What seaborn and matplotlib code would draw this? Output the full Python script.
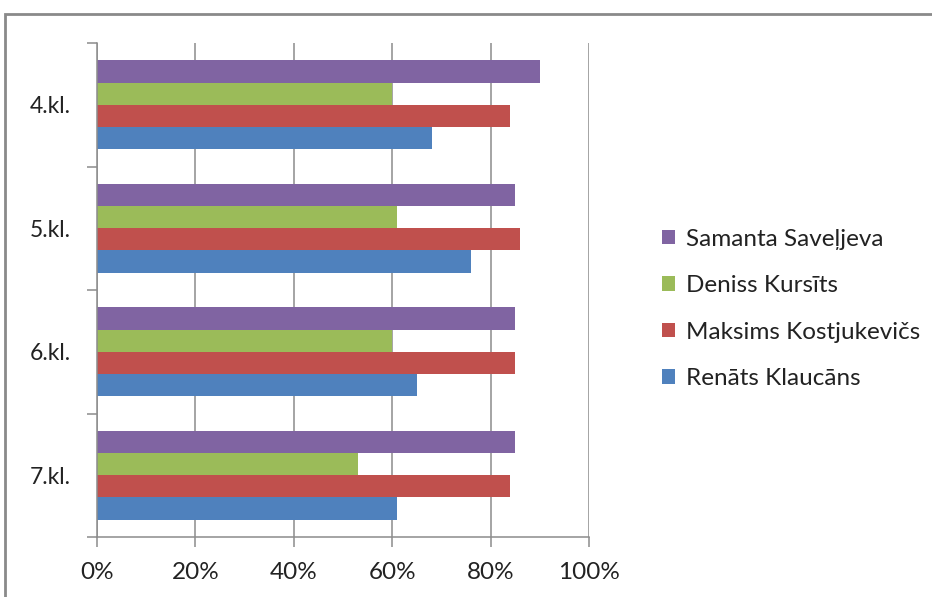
import matplotlib
matplotlib.use("Agg")
import matplotlib.pyplot as plt
import seaborn as sns
import pandas as pd
from matplotlib.patches import Rectangle, Patch
from matplotlib.ticker import FixedLocator

classes = ["4.kl.", "5.kl.", "6.kl.", "7.kl."]
students = ["Samanta Saveļjeva", "Deniss Kursīts", "Maksims Kostjukevičs", "Renāts Klaucāns"]
samanta = [90, 85, 85, 85]
deniss = [60, 61, 60, 53]
maksims = [84, 86, 85, 84]
renats = [68, 76, 65, 61]
colors = ["#8064A2", "#9BBB59", "#C0504D", "#4F81BD"]

rows = []
for name, vals in zip(students, [samanta, deniss, maksims, renats]):
    for cls, v in zip(classes, vals):
        rows.append({"klase": cls, "skolēns": name, "proc": v})
df = pd.DataFrame(rows)

sns.set_theme(style="white")
plt.rcParams['font.family'] = ['Lato', 'DejaVu Sans']

W, H = 932, 597
fig = plt.figure(figsize=(W / 100, H / 100), dpi=100)
ax = fig.add_axes([97 / W, 1 - 537 / H, (589 - 97) / W, (537 - 43) / H])

sns.barplot(data=df, x="proc", y="klase", hue="skolēns", order=classes,
            hue_order=students, palette=colors, orient="h", width=0.72,
            saturation=1, ax=ax, legend=False, edgecolor="none")

ax.set_xlim(0, 100)
ax.set_ylim(3.5, -0.5)
ax.set_xticks([0, 20, 40, 60, 80, 100])
ax.set_xticklabels([f"{t}%" for t in [0, 20, 40, 60, 80, 100]])
ax.xaxis.grid(True, color="#8c8c8c", linewidth=1.1)
ax.yaxis.grid(False)
ax.set_axisbelow(True)
ax.set_xlabel("")
ax.set_ylabel("")

for s in ["top", "right"]:
    ax.spines[s].set_visible(False)
for s in ["left", "bottom"]:
    ax.spines[s].set_color("#8c8c8c")
    ax.spines[s].set_linewidth(1.1)

ax.yaxis.set_minor_locator(FixedLocator([-0.5, 0.5, 1.5, 2.5, 3.5]))
ax.tick_params(axis="y", which="major", length=0, pad=19, labelsize=16.5, labelcolor="#222222")
ax.tick_params(axis="y", which="minor", length=7, width=1.1, color="#8c8c8c", left=True)
ax.tick_params(axis="x", which="major", length=7, width=1.1, color="#8c8c8c",
               bottom=True, pad=11, labelsize=17.5, labelcolor="#222222")

handles = [Patch(facecolor=c, edgecolor="none") for c in colors]
fig.legend(handles, students, loc="center left", bbox_to_anchor=(640 / W, 1 - 309 / H),
           frameon=False, fontsize=17.5, handlelength=0.55, handleheight=0.55,
           handletextpad=0.45, labelspacing=1.05, labelcolor="#222222")

fig.patches.append(Rectangle((5 / W, -0.1), 1.2, 1.1 - 14 / H, transform=fig.transFigure,
                             fill=False, edgecolor="#8a8a8a", linewidth=2))

fig.savefig("out.png", dpi=100)
